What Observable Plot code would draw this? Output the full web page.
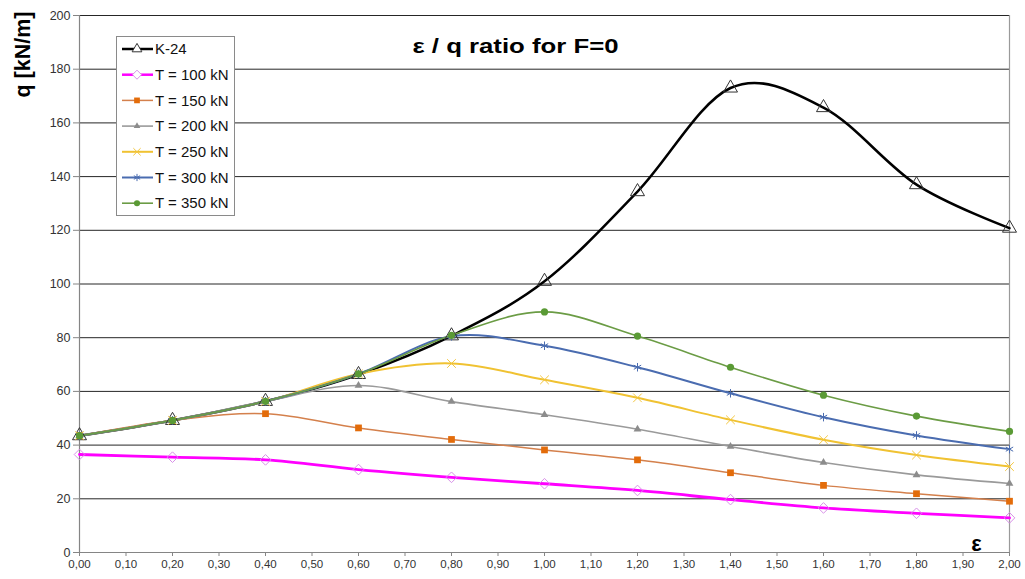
<!DOCTYPE html>
<html>
<head>
<meta charset="utf-8">
<script src="https://cdn.jsdelivr.net/npm/d3@7"></script>
<script src="https://cdn.jsdelivr.net/npm/@observablehq/plot@0.6"></script>
<style>
  html, body { margin: 0; padding: 0; background: #fff; }
  #wrap { position: relative; width: 1025px; height: 579px; font-family: Arial, "Liberation Sans", sans-serif; }
  #legend { position: absolute; left: 116px; top: 36px; }
</style>
</head>
<body>
<div id="wrap"><div id="chart"></div><div id="legend"></div></div>
<script>
// ---- data ----
const eps = [0.0, 0.2, 0.4, 0.6, 0.8, 1.0, 1.2, 1.4, 1.6, 1.8, 2.0];
const k24  = [43.5, 49.2, 56.3, 66.3, 80.7, 101.0, 134.4, 173.0, 165.7, 137.0, 120.8];
const t100 = [36.5, 35.5, 34.5, 30.9, 28.0, 25.6, 23.1, 19.7, 16.6, 14.6, 12.9];
const t150 = [43.5, 49.2, 51.7, 46.4, 42.1, 38.2, 34.5, 29.7, 25.0, 21.9, 19.1];
const t200 = [43.5, 49.2, 56.3, 62.2, 56.2, 51.3, 45.9, 39.5, 33.5, 28.9, 25.7];
const t250 = [43.5, 49.2, 56.3, 66.5, 70.4, 64.3, 57.6, 49.4, 42.0, 36.3, 32.0];
const t300 = [43.5, 49.2, 56.3, 66.5, 80.5, 77.0, 69.0, 59.3, 50.4, 43.6, 38.5];
const t350 = [43.5, 49.2, 56.3, 66.5, 80.9, 89.6, 80.6, 69.0, 58.6, 50.8, 45.1];
const seriesNames = ["K-24", "T = 100 kN", "T = 150 kN", "T = 200 kN", "T = 250 kN", "T = 300 kN", "T = 350 kN"];
const seriesValues = [k24, t100, t150, t200, t250, t300, t350];
const yTicks = [0, 20, 40, 60, 80, 100, 120, 140, 160, 180, 200];
const xTicks = d3.range(0, 21).map(i => i / 10);
const titleText = "ε / q ratio for F=0";
const yLabel = "q [kN/m]";
const xLabel = "ε";

// ---- styles ----
const styles = {
  "K-24":       {line: "#000000", lw: 2.5, symbol: "triangle",  r: 5.2, fill: "none",    stroke: "#333",    sw: 1},
  "T = 100 kN": {line: "#ff00ff", lw: 2.8, symbol: "diamond2",  r: 4.8, fill: "none",    stroke: "#d890e8", sw: 1},
  "T = 150 kN": {line: "#d4804c", lw: 1.5, symbol: "square",    r: 3.8, fill: "#e36c0a", stroke: "none",    sw: 0},
  "T = 200 kN": {line: "#9a9a9a", lw: 1.6, symbol: "triangle",  r: 2.9, fill: "#8c8c8c", stroke: "none",    sw: 0},
  "T = 250 kN": {line: "#f0c232", lw: 2.0, symbol: "times",     r: 4,   fill: "none",    stroke: "#f3c63e", sw: 1},
  "T = 300 kN": {line: "#4a6cb0", lw: 2.0, symbol: "asterisk",  r: 4,   fill: "none",    stroke: "#4a6cb0", sw: 1},
  "T = 350 kN": {line: "#6b9c45", lw: 1.6, symbol: "circle",    r: 3.6, fill: "#5a9a35", stroke: "none",    sw: 0}
};

const rows = seriesNames.flatMap((name, si) => seriesValues[si].map((q, i) => ({name, eps: eps[i], q})));
const fmt = v => d3.format(".2f")(v).replace(".", ",");

const marks = [
  Plot.ruleY(yTicks.filter(v => v > 0), {stroke: "#262626", strokeWidth: 1}),
  Plot.ruleX([0], {stroke: "#858585", strokeWidth: 1.2}),
  Plot.ruleX([2], {stroke: "#9a9a9a", strokeWidth: 1.2}),
  Plot.ruleY([0], {stroke: "#858585", strokeWidth: 1.2}),
  Plot.axisY({ticks: yTicks, tickSize: 6, tickPadding: 3, fontSize: 12.5, color: "#333", stroke: "#858585", label: null}),
  Plot.axisX({ticks: xTicks, tickFormat: fmt, tickSize: 4, tickPadding: 3, fontSize: 11.5, color: "#333", stroke: "#858585", label: null})
];
for (const name of seriesNames) {
  const s = styles[name];
  const data = rows.filter(d => d.name === name);
  marks.push(Plot.line(data, {x: "eps", y: "q", stroke: s.line, strokeWidth: s.lw, curve: "cardinal"}));
}
for (const name of seriesNames) {
  const s = styles[name];
  const data = rows.filter(d => d.name === name);
  marks.push(Plot.dot(data, {x: "eps", y: "q", symbol: () => s.symbol, r: s.r, fill: s.fill, stroke: s.stroke, strokeWidth: s.sw}));
}
marks.push(
  Plot.text([titleText], {frameAnchor: "top", textAnchor: "middle", lineAnchor: "middle", dx: -29, dy: 31, fontSize: 20, fontWeight: "bold", fill: "#000"}),
  Plot.text([xLabel], {frameAnchor: "bottom-right", textAnchor: "middle", lineAnchor: "middle", dx: -33, dy: -9, fontSize: 22, fontWeight: "bold", fill: "#000"}),
  Plot.text([yLabel], {frameAnchor: "top-left", textAnchor: "middle", lineAnchor: "middle", dx: -56, dy: 39, rotate: -90, fontSize: 21.5, fontWeight: "bold", fill: "#000"})
);

const chart = Plot.plot({
  width: 1025,
  height: 579,
  marginLeft: 79,
  marginRight: 16,
  marginTop: 15,
  marginBottom: 27,
  style: {fontFamily: "Arial, 'Liberation Sans', sans-serif", background: "#fff"},
  x: {domain: [0, 2]},
  y: {domain: [0, 200]},
  symbol: {type: "identity"},
  marks
});
document.getElementById("chart").appendChild(chart);
// the reference's title is drawn wide: stretch it to the same length
d3.select(chart).selectAll("text").filter(function () { return this.textContent === titleText; })
  .attr("textLength", 206).attr("lengthAdjust", "spacingAndGlyphs");

// ---- legend ----
const lw = 119, lh = 180;
const svg = d3.select("#legend").append("svg").attr("width", lw).attr("height", lh)
  .style("font-family", "Arial, 'Liberation Sans', sans-serif");
svg.append("rect").attr("x", 0.5).attr("y", 0.5).attr("width", lw - 1).attr("height", lh - 1)
  .attr("fill", "#fff").attr("stroke", "#8a8a8a");
const symMap = {triangle: d3.symbolTriangle, diamond2: d3.symbolDiamond2, square: d3.symbolSquare, times: d3.symbolTimes, asterisk: d3.symbolAsterisk, circle: d3.symbolCircle};
seriesNames.forEach((name, i) => {
  const s = styles[name];
  const y = 13 + i * 25.7;
  const g = svg.append("g").attr("transform", `translate(0,${y})`);
  g.append("line").attr("x1", 6).attr("x2", 37).attr("y1", 0).attr("y2", 0)
    .attr("stroke", s.line).attr("stroke-width", Math.min(s.lw, 2.5));
  const rr = name === "K-24" ? 3.6 : s.r * 0.85;
  g.append("path").attr("transform", "translate(21,0)")
    .attr("d", d3.symbol(symMap[s.symbol], Math.PI * rr * rr)())
    .attr("fill", s.fill === "none" ? (name === "K-24" || name === "T = 100 kN" ? "#fff" : "none") : s.fill)
    .attr("stroke", s.stroke).attr("stroke-width", s.sw);
  g.append("text").attr("x", 39).attr("y", 0).attr("dy", "0.35em")
    .attr("font-size", 15).attr("fill", "#111").text(name);
});
</script>
</body>
</html>
